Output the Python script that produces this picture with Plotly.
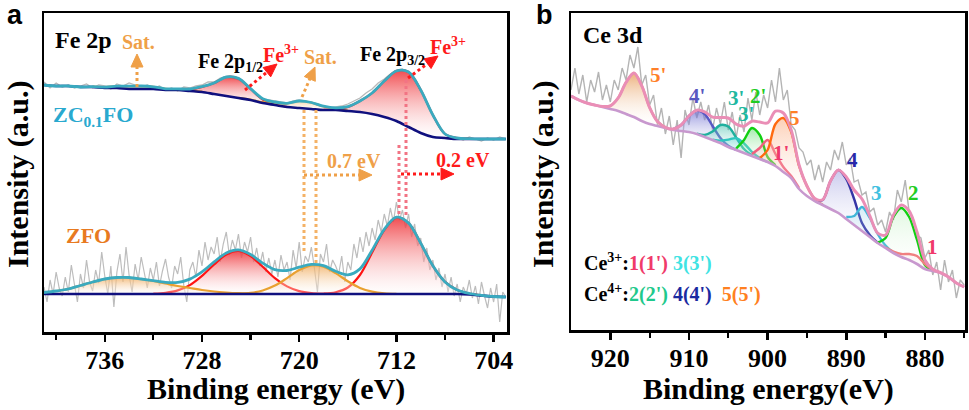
import math
import numpy as np
import plotly.graph_objects as go

W, H = 969, 410

# ---------------- Panel a : Fe 2p ----------------
FE_GRID = list(range(741, 702, -1))          # binding energy (eV), 741 ... 703
FE_BG_ZC = [247, 246, 246, 245, 245, 244, 244, 243, 243, 243, 242, 242, 241, 240, 238,
            236, 234, 232, 229, 227, 225, 224, 223, 222, 222, 221, 220, 218, 215, 211,
            205, 199, 195, 194, 193, 193, 193, 193, 193]
FE_BG_ZFO = [38, 38, 38, 38, 38, 38, 38, 38, 38, 38, 38, 38, 38, 38, 38, 38, 38, 38, 38, 38,
             38, 38, 38, 38, 38, 38, 38, 38, 38, 38, 38, 38, 38, 38, 38, 37.5, 36.5, 35.5, 35]
# fitted components: (first energy, heights above background at 1 eV steps)
ZC_SAT1 = (737, [0.3, 0.8, 1.8, 2.8, 3, 2.2, 1.2, 0.8, 0.5, 0.3])
ZC_P12 = (730, [0.3, 1.5, 5, 11, 19, 19.5, 11, 3.5, 1, 0.2])
ZC_SAT2 = (725, [0.1, 0.3, 0.8, 2, 3.5, 7, 6.5, 3.5, 1.2, 0.3])
ZC_P32 = (718, [0.3, 1, 4, 11, 21, 36, 50, 55, 43, 22, 4, 1, 0.3])
ZFO_SAT1 = (741, [1.5, 3, 5, 8.5, 12, 15, 16.5, 16.5, 15, 13, 10.5, 8, 6, 4, 2.5, 1.5, 0.8, 0.4, 0.1])
ZFO_P12 = (732, [0.3, 1.2, 3.6, 8.9, 18.1, 29.6, 39.5, 43, 37.9, 27.3, 15.9, 7.6, 2.9, 0.9, 0.3])
ZFO_SAT2 = (726, [0.1, 0.35, 1.2, 3.5, 8.4, 15.9, 23.9, 28.7, 27.4, 20.9, 12.7, 6.1, 2.4, 0.7, 0.2])
ZFO_P32 = (718, [0.6, 1.8, 6.5, 19, 41.4, 64, 76.6, 70.9, 50.8, 28.2, 12.1, 4, 1, 0.2])

# raw spectra
FE_RAW_ZC_START, FE_RAW_ZC_STEP = 741, 0.5
FE_RAW_ZC = [250, 244, 249, 245, 247, 244, 246, 248, 244, 247, 246, 243, 248, 246, 249, 247,
             245, 247, 244, 246, 242, 244, 241, 245, 244, 246, 247, 250, 250, 254, 255, 254,
             252, 249, 244, 238, 233, 232, 231, 230, 229, 231, 232, 231, 229, 227, 226, 224,
             225, 226, 228, 231, 234, 239, 243, 249, 253, 258, 262, 263, 259, 252, 241, 230,
             217, 205, 198, 195, 194, 192, 195, 193, 191, 194, 192, 195, 193]
FE_RAW_ZFO_START, FE_RAW_ZFO_STEP = 741, 0.25
FE_RAW_ZFO = [45, 30, 52, 38, 60, 44, 36, 55, 40, 67, 48, 30, 58, 44, 72, 50, 41, 62, 49, 80,
              56, 38, 66, 25, 60, 78, 50, 85, 57, 40, 68, 52, 75, 58, 44, 64, 52, 70, 46, 61,
              73, 55, 44, 66, 58, 75, 47, 30, 62, 70, 55, 82, 66, 90, 72, 85, 78, 95, 70, 88,
              100, 77, 92, 82, 98, 74, 90, 80, 95, 70, 84, 66, 80, 60, 74, 58, 72, 55, 77, 62,
              70, 52, 82, 64, 90, 60, 76, 70, 85, 64, 40, 78, 70, 88, 60, 72, 66, 58, 76, 50,
              70, 62, 88, 74, 95, 80, 100, 86, 104, 92, 112, 100, 118, 106, 124, 110, 130, 112, 122, 104,
              118, 95, 108, 86, 94, 70, 84, 62, 72, 52, 64, 45, 58, 40, 55, 36, 48, 30, 45, 38,
              52, 34, 46, 28, 50, 36, 24, 44, 30, 48, 10, 40, 35]
FE_TICKS = [736, 728, 720, 712, 704]
FE_MINOR = [740, 732, 724, 716, 708]

# ---------------- Panel b : Ce 3d ----------------
CE_GRID = list(range(925, 874, -1))          # 925 ... 875
CE_BG = [234, 230, 227, 225, 223, 221, 219, 216, 213, 209, 206, 204, 202, 200, 199, 198, 196,
         193, 190, 187, 183, 180, 177, 174, 171, 168, 164, 158, 152, 141, 134, 129, 125, 121,
         117, 111, 105, 99, 93, 87, 82, 77, 73, 70, 66, 61, 59, 57, 53, 47, 43]
CE_5P = (921, [0.45, 3.2, 13.1, 31.6, 44, 35.2, 16.4, 4.4, 0.7])
CE_4P = (912, [1, 6, 16, 23.5, 23, 14, 5, 1.2, 0.2])
CE_3P = (909, [0.3, 2.1, 8.5, 18, 20.4, 12.4, 4, 0.7])
CE_3PB = (907, [0.4, 2.4, 7.4, 11.8, 9.7, 4.1, 0.9, 0.1])
CE_2P = (904, [1.5, 13, 28, 24, 5, 0.8])
CE_1P = (902, [2, 11, 22, 12, 5, 2, 1])
CE_5 = (901, [1, 12, 42, 54, 46, 23, 10, 2, 0.3])
CE_4 = (894, [0.5, 5, 28, 43, 40, 26, 8, 2, 0.3])
CE_3 = (890, [2, 9, 24, 19, 9, 2.5, 0.5])
CE_2 = (886, [0.5, 10, 36, 49, 43, 24, 4, 0.3])
CE_1 = (885, [0.5, 1.5, 3, 6, 8, 5, 1.5, 0.3])
CE_RAW_START, CE_RAW_STEP = 925, 0.5
CE_RAW = [240, 262, 236, 255, 228, 250, 238, 258, 230, 245, 228, 250, 240, 262, 250, 275, 262,
          283, 245, 255, 225, 235, 205, 222, 196, 214, 185, 210, 172, 220, 205, 232, 212, 228,
          210, 225, 200, 222, 206, 228, 200, 218, 192, 215, 198, 232, 210, 238, 215, 235, 222,
          250, 228, 262, 230, 240, 205, 200, 182, 178, 165, 170, 150, 165, 148, 168, 160, 180,
          170, 188, 165, 172, 148, 150, 135, 138, 118, 122, 105, 110, 98, 118, 110, 140, 128,
          150, 118, 112, 95, 92, 72, 80, 55, 68, 40, 70, 48, 60, 32, 50, 45]
CE_TICKS = [920, 910, 900, 890, 880]
CE_MINOR = [915, 905, 895, 885, 875]

SERIF = "Liberation Serif"
SANS = "Liberation Sans"


def segment(grid, bg, comp):
    e0, h = comp
    i0 = grid.index(e0)
    E = grid[i0:i0 + len(h)]
    base = bg[i0:i0 + len(h)]
    top = [b + v for b, v in zip(base, h)]
    return E, base, top


def envelope(grid, bg, comps):
    env = list(bg)
    for e0, h in comps:
        i0 = grid.index(e0)
        for k, v in enumerate(h):
            env[i0 + k] += v
    return env


fig = go.Figure()


def add_raw(start, step, vals, color, width, xa, ya):
    E = start - step * np.arange(len(vals))
    fig.add_trace(go.Scatter(x=E, y=vals, mode="lines", line=dict(color=color, width=width),
                             xaxis=xa, yaxis=ya, hoverinfo="skip"))


def add_comp(grid, bg, comp, lcolor, ctop, cbot, xa, ya, lw=2.2):
    E, base, top = segment(grid, bg, comp)
    fig.add_trace(go.Scatter(x=E + E[::-1], y=top + base[::-1], fill="toself", mode="lines",
                             line=dict(width=0, shape="spline", smoothing=0.9),
                             fillgradient=dict(type="vertical", colorscale=[[0, cbot], [1, ctop]]),
                             xaxis=xa, yaxis=ya, hoverinfo="skip"))
    fig.add_trace(go.Scatter(x=E, y=top, mode="lines",
                             line=dict(color=lcolor, width=lw, shape="spline", smoothing=0.9),
                             xaxis=xa, yaxis=ya, hoverinfo="skip"))


def add_line(x, y, color, width, xa, ya):
    fig.add_trace(go.Scatter(x=x, y=y, mode="lines",
                             line=dict(color=color, width=width, shape="spline", smoothing=0.9),
                             xaxis=xa, yaxis=ya, hoverinfo="skip"))


RED_T, RED_B = "rgba(238,45,50,0.85)", "rgba(255,255,255,0.25)"
ORA_T, ORA_B = "rgba(240,170,90,0.8)", "rgba(255,255,255,0.25)"
RED_L, ORA_L = "#FF1414", "#E9A030"
TEAL, NAVY = "#3AAABF", "#10107E"

# --- panel a traces ---
add_raw(FE_RAW_ZC_START, FE_RAW_ZC_STEP, FE_RAW_ZC, "#B8B8B8", 1.3, "x", "y")
add_raw(FE_RAW_ZFO_START, FE_RAW_ZFO_STEP, FE_RAW_ZFO, "#BDBDBD", 1.2, "x", "y")
for comp in (ZC_P12, ZC_P32):
    add_comp(FE_GRID, FE_BG_ZC, comp, RED_L, RED_T, RED_B, "x", "y")
for comp in (ZC_SAT1, ZC_SAT2):
    add_comp(FE_GRID, FE_BG_ZC, comp, ORA_L, ORA_T, ORA_B, "x", "y")
for comp in (ZFO_P12, ZFO_P32):
    add_comp(FE_GRID, FE_BG_ZFO, comp, RED_L, RED_T, RED_B, "x", "y")
for comp in (ZFO_SAT1, ZFO_SAT2):
    add_comp(FE_GRID, FE_BG_ZFO, comp, ORA_L, ORA_T, ORA_B, "x", "y")
add_line(FE_GRID, FE_BG_ZC, NAVY, 2.6, "x", "y")
add_line(FE_GRID, FE_BG_ZFO, NAVY, 2.6, "x", "y")
add_line(FE_GRID, envelope(FE_GRID, FE_BG_ZC, [ZC_SAT1, ZC_P12, ZC_SAT2, ZC_P32]), TEAL, 2.8, "x", "y")
add_line(FE_GRID, envelope(FE_GRID, FE_BG_ZFO, [ZFO_SAT1, ZFO_P12, ZFO_SAT2, ZFO_P32]), TEAL, 2.8, "x", "y")

# --- panel b traces ---
add_raw(CE_RAW_START, CE_RAW_STEP, CE_RAW, "#B4B4B4", 1.4, "x2", "y2")
CE_STYLE = [
    (CE_5P, "#EE9E66", "rgba(230,150,80,0.75)"),
    (CE_4P, "#5858C4", "rgba(95,95,205,0.65)"),
    (CE_3P, "#1FB09E", "rgba(40,180,160,0.5)"),
    (CE_3PB, "#2EC6BE", "rgba(60,205,195,0.35)"),
    (CE_2P, "#12CF12", "rgba(50,210,70,0.45)"),
    (CE_1P, "#F0607E", "rgba(240,130,120,0.25)"),
    (CE_5, "#FF6A10", "rgba(250,160,110,0.5)"),
    (CE_4, "#3535A6", "rgba(120,120,210,0.4)"),
    (CE_3, "#3FB6D8", "rgba(110,190,225,0.3)"),
    (CE_2, "#12CF12", "rgba(130,225,130,0.25)"),
    (CE_1, "#F08080", "rgba(240,150,150,0.15)"),
]
for comp, lc, fc in CE_STYLE:
    add_comp(CE_GRID, CE_BG, comp, lc, fc, "rgba(255,255,255,0.05)", "x2", "y2", lw=2.4)
add_line(CE_GRID, CE_BG, "#C898CE", 2.6, "x2", "y2")
add_line(CE_GRID, envelope(CE_GRID, CE_BG, [c[0] for c in CE_STYLE]), "#EA8EB6", 3, "x2", "y2")

# --- axes ---
tickfont = dict(family=SERIF, size=26, color="black", weight="bold")
common_x = dict(showline=True, mirror=True, linecolor="black", linewidth=2.5, ticks="outside",
                ticklen=7, tickwidth=2.5, tickcolor="black", showgrid=False, zeroline=False,
                tickfont=tickfont, automargin=False, ticklabelstandoff=-4)
common_y = dict(showline=True, mirror=True, linecolor="black", linewidth=2.5, ticks="",
                showticklabels=False, showgrid=False, zeroline=False, automargin=False)
minor = dict(ticks="outside", ticklen=5, tickwidth=2.2, tickcolor="black")
fig.update_layout(
    width=W, height=H, margin=dict(l=0, r=0, t=0, b=0, autoexpand=False),
    paper_bgcolor="white", plot_bgcolor="white", showlegend=False,
    xaxis=dict(domain=[44 / W, 507 / W], range=[741, 702.9], anchor="y",
               tickvals=FE_TICKS, minor=dict(tickvals=FE_MINOR, **minor), **common_x),
    yaxis=dict(domain=[1 - 332 / H, 1 - 13 / H], range=[0, 319], anchor="x", **common_y),
    xaxis2=dict(domain=[571 / W, 965 / W], range=[925, 874.9], anchor="y2",
                tickvals=CE_TICKS, minor=dict(tickvals=CE_MINOR, **minor), **common_x),
    yaxis2=dict(domain=[1 - 330 / H, 1 - 13 / H], range=[0, 317], anchor="x2", **common_y),
)

# --- annotations (positions in page pixels) ---
ann, shp = [], []


def P(px, py):
    return px / W, 1 - py / H


def text(px, py, s, color="black", size=20, family=SERIF, angle=0, xanchor="center"):
    x, y = P(px, py)
    ann.append(dict(x=x, y=y, xref="paper", yref="paper", text=s, showarrow=False,
                    xanchor=xanchor, yanchor="middle", textangle=angle,
                    font=dict(family=family, size=size, color=color, weight="bold")))


def dline(x0, y0, x1, y1, color, width=3):
    a, b = P(x0, y0)
    c, d = P(x1, y1)
    shp.append(dict(type="line", xref="paper", yref="paper", x0=a, y0=b, x1=c, y1=d,
                    line=dict(color=color, width=width, dash="dot")))


def arrow(x0, y0, x1, y1, color, L=13, w=12):
    d = math.hypot(x1 - x0, y1 - y0)
    ux, uy = (x1 - x0) / d, (y1 - y0) / d
    dline(x0, y0, x1 - ux * (L - 2), y1 - uy * (L - 2), color)
    bx, by = x1 - ux * L, y1 - uy * L
    nx, ny = -uy, ux
    pts = [P(x1, y1), P(bx + nx * w / 2, by + ny * w / 2), P(bx - nx * w / 2, by - ny * w / 2)]
    path = "M {} {} L {} {} L {} {} Z".format(*[v for p in pts for v in p])
    shp.append(dict(type="path", xref="paper", yref="paper", path=path,
                    fillcolor=color, line=dict(color=color, width=1)))


ORA_A, RED_A, PINK_A = "#EFA048", "#FF1A1A", "#F27484"
# panel a
text(15, 15, "a", size=27, family=SANS)
text(83, 40, "Fe 2p", size=24)
text(138, 42, "Sat.", ORA_A)
arrow(137, 87, 137, 54, ORA_A)
text(230, 62, "Fe 2p<sub>1/2</sub>")
text(281, 54, "Fe<sup>3+</sup>", RED_A)
arrow(245, 90, 277, 64, RED_A)
text(320, 57, "Sat.", ORA_A)
arrow(302, 97, 315, 67, ORA_A)
text(392, 55, "Fe 2p<sub>3/2</sub>")
text(448, 46, "Fe<sup>3+</sup>", RED_A)
arrow(408, 78, 438, 56, RED_A)
text(93, 116, "ZC<sub>0.1</sub>FO", "#29A9CF", size=22)
text(88, 236, "ZFO", "#E87A20", size=22)
dline(304, 110, 304, 253, "#F4B266")
dline(316, 110, 316, 265, "#F4B266")
arrow(304, 175, 372, 175, ORA_A)
text(354, 161, "0.7 eV", ORA_A)
dline(399, 145, 399, 215, PINK_A)
dline(406, 80, 406, 215, PINK_A)
arrow(401, 174, 454, 174, RED_A)
text(463, 160, "0.2 eV", RED_A)
text(18, 174, "Intensity (a.u.)", size=30, angle=-90)
text(276, 389, "Binding energy (eV)", size=30)

# panel b
text(544, 15, "b", size=27, family=SANS)
text(613, 35, "Ce 3d", size=24)
for px, py, s, c in [(658, 75, "5'", "#FF7F27"), (697, 96, "4'", "#5858C0"),
                     (736, 98, "3'", "#20B8A0"), (758, 96, "2'", "#22CC22"),
                     (746, 114, "3'", "#20B8A0"), (794, 118, "5", "#FF7F27"),
                     (781, 153, "1'", "#F03A6A"), (852, 160, "4", "#2828A8"),
                     (876, 193, "3", "#40C0E0"), (913, 193, "2", "#22CC22"),
                     (932, 247, "1", "#F03A6A")]:
    text(px, py, s, c, size=21)
text(582, 262, "Ce<sup>3+</sup>:<span style='color:#F03A6A'>1(1')</span> "
     "<span style='color:#3FE3E3'>3(3')</span>", size=20, xanchor="left")
text(582, 293, "Ce<sup>4+</sup>:<span style='color:#1FC98C'>2(2')</span> "
     "<span style='color:#1A2AA0'>4(4')</span>  <span style='color:#FF8020'>5(5')</span>",
     size=20, xanchor="left")
text(543, 174, "Intensity (a.u.)", size=30, angle=-90)
text(768, 389, "Binding energy(eV)", size=30)

fig.update_layout(annotations=ann, shapes=shp)
fig.write_html("out.html", config={"displayModeBar": False, "staticPlot": True},
               post_script="document.body.style.margin='0px';document.body.style.padding='0px';")
